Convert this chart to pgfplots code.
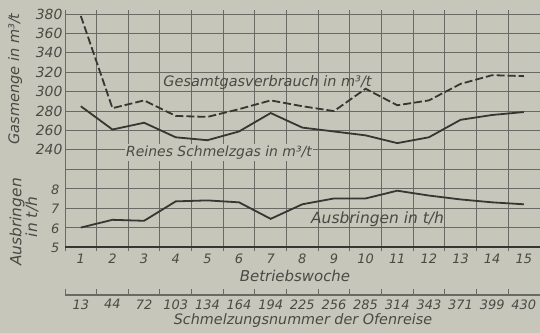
\documentclass[border=0pt]{standalone}
\usepackage{fontspec}
\setmainfont{DejaVu Sans}
\usepackage{pgfplots}
\pgfplotsset{compat=1.18}
\definecolor{paper}{HTML}{C6C6BA}
\definecolor{ink}{HTML}{363632}
\definecolor{gridc}{HTML}{6A6A64}
\definecolor{txt}{HTML}{4A4A45}
\newcommand{\fs}[1]{\fontsize{#1}{#1}\selectfont\itshape}
\begin{document}
\begin{tikzpicture}
\fill[paper] (0,0) rectangle (540bp,-333bp);
\path[use as bounding box] (0,0) rectangle (540bp,-333bp);
% main axis: gas quantities
\begin{axis}[
  at={(65bp,-247bp)}, anchor=south west, scale only axis,
  width=477.8bp, height=233bp,
  xmin=0.5, xmax=15.6, ymin=140, ymax=380,
  /pgf/number format/assume math mode=true,
  axis line style={gridc, line width=0.9bp},
  xtick={1,...,15},
  xticklabels={1,2,3,4,5,6,7,8,9,10,11,12,13,14,15},
  xticklabel style={font=\fs{13}, text=txt, yshift=-3.5bp},
  major tick length=0pt,
  extra x ticks={0.5,1.5,...,14.5},
  extra x tick labels={},
  extra x tick style={grid=major, major tick length=4bp, tick align=outside},
  tick style={gridc, line width=0.9bp},
  ytick={140,160,...,380},
  yticklabels={,,,,,240,260,280,300,320,340,360,380},
  ymajorgrids,
  grid style={gridc, line width=0.9bp},
  yticklabel style={font=\fs{14}, text=txt, xshift=1bp},
  clip=false,
]
\addplot[ink, line width=1.8bp, dash pattern=on 8bp off 3bp] coordinates {
 (1,378) (2,283) (3,291) (4,275) (5,274) (6,282) (7,291) (8,285)
 (9,280) (10,303) (11,286) (12,291) (13,308) (14,317) (15,316)};
\addplot[ink, line width=1.8bp] coordinates {
 (1,285) (2,261) (3,268) (4,253) (5,250) (6,259) (7,278) (8,263)
 (9,259) (10,255) (11,247) (12,253) (13,271) (14,276) (15,279)};
\draw[ink, line width=1.4bp] (rel axis cs:0,0) -- (rel axis cs:1,0);
\end{axis}
% second scale: output
\begin{axis}[
  at={(65bp,-247bp)}, anchor=south west, scale only axis,
  width=477.8bp, height=233bp,
  xmin=0.5, xmax=15.6, ymin=5, ymax=17,
  /pgf/number format/assume math mode=true,
  axis line style={draw=none},
  xtick=\empty,
  ytick={5,6,7,8}, yticklabels={5,6,7,8},
  major tick length=0pt,
  yticklabel style={font=\fs{13}, text=txt, xshift=-2bp, yshift=-1bp},
]
\addplot[ink, line width=1.8bp] coordinates {
 (1,6.0) (2,6.4) (3,6.35) (4,7.35) (5,7.4) (6,7.3) (7,6.45) (8,7.2)
 (9,7.5) (10,7.5) (11,7.9) (12,7.65) (13,7.45) (14,7.3) (15,7.2)};
\end{axis}
% third scale: heat numbers
\begin{axis}[
  at={(65bp,-295bp)}, anchor=south west, scale only axis,
  width=477.8bp, height=10bp,
  xmin=0.5, xmax=15.6, ymin=0, ymax=1,
  /pgf/number format/assume math mode=true,
  axis x line*=bottom, axis y line=none,
  axis line style={gridc, line width=1.2bp},
  xtick={1,...,15},
  xticklabels={13,44,72,103,134,164,194,225,256,285,314,343,371,399,430},
  xticklabel style={font=\fs{13}, text=txt, yshift=-1bp},
  major tick length=0pt,
  extra x ticks={0.5,1.5,...,14.5},
  extra x tick labels={},
  extra x tick style={major tick length=6bp, tick align=inside},
  tick style={gridc, line width=0.9bp},
]
\addplot[draw=none] coordinates {(1,0)};
\end{axis}
% texts
\node[font=\fs{14.5}, text=txt] at (267.5bp,-83bp) {Gesamtgasverbrauch in m³/t};
\node[font=\fs{14}, text=txt, fill=paper, inner sep=1.5bp] at (219bp,-152.5bp) {Reines Schmelzgas in m³/t};
\node[font=\fs{15.5}, text=txt] at (377.5bp,-219.5bp) {Ausbringen in t/h};
\node[font=\fs{14.6}, text=txt, rotate=90] at (15bp,-79bp) {Gasmenge in m³/t};
\node[font=\fs{15.5}, text=txt, rotate=90] at (17bp,-222bp) {Ausbringen};
\node[font=\fs{15.5}, text=txt, rotate=90] at (32bp,-217bp) {in t/h};
\node[font=\fs{15}, text=txt] at (295bp,-275.5bp) {Betriebswoche};
\node[font=\fs{14.4}, text=txt] at (303bp,-321bp) {Schmelzungsnummer der Ofenreise};
\end{tikzpicture}
\end{document}
